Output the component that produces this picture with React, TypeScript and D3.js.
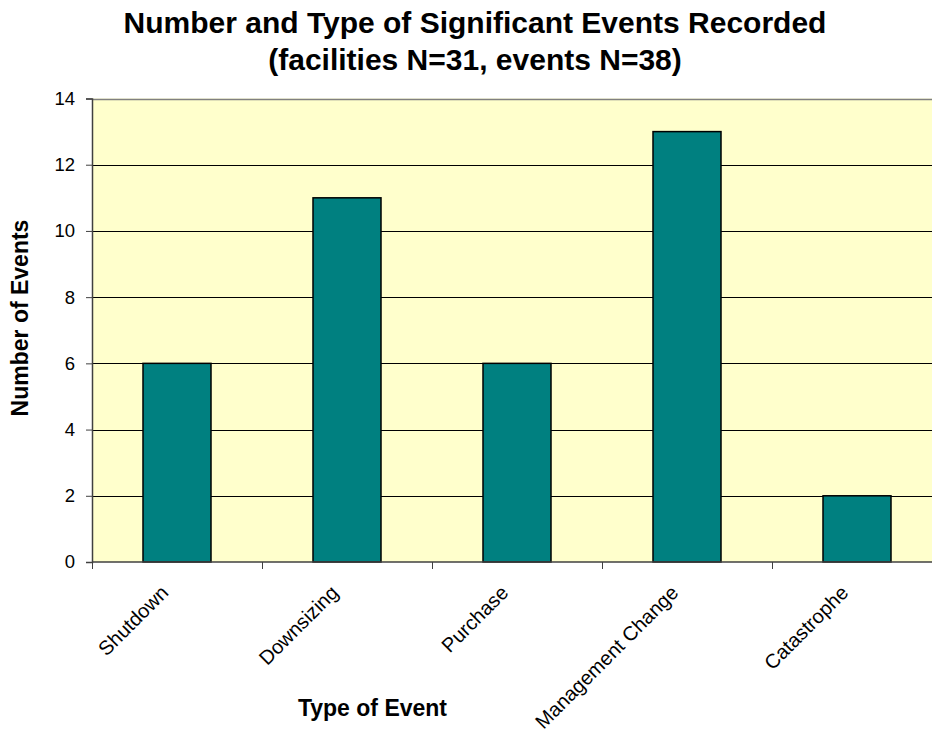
import React, { useEffect, useRef } from "react";
import * as d3 from "d3";

const categories = ["Shutdown", "Downsizing", "Purchase", "Management Change", "Catastrophe"];
const eventCounts = [6, 11, 6, 13, 2];
const yTicks = [0, 2, 4, 6, 8, 10, 12, 14];
const titleLines = ["Number and Type of Significant Events Recorded", "(facilities N=31, events N=38)"];

const FONT = "Arial, 'Liberation Sans', sans-serif";

const App = () => {
  const svgRef = useRef<SVGSVGElement>(null);

  useEffect(() => {
    document.body.style.margin = "0";
    const w = 932;
    const h = 734;
    const left = 92;
    const right = 942;
    const top = 98.5;
    const bottom = 562;

    const svg = d3.select(svgRef.current).attr("width", w).attr("height", h);
    svg.selectAll("*").remove();

    const x = d3.scaleBand().domain(categories).range([left, right]).paddingInner(0.6).paddingOuter(0.3);
    const y = d3.scaleLinear().domain([0, 14]).range([bottom, top]);

    // plot background
    svg
      .append("rect")
      .attr("x", left)
      .attr("y", top)
      .attr("width", right - left)
      .attr("height", bottom - top)
      .attr("fill", "#ffffcc");

    // gridlines
    svg
      .append("g")
      .selectAll("line")
      .data(yTicks.filter((d) => d > 0))
      .join("line")
      .attr("x1", left)
      .attr("x2", right)
      .attr("y1", (d) => Math.round(y(d)) + 0.5)
      .attr("y2", (d) => Math.round(y(d)) + 0.5)
      .attr("stroke", (d) => (d === 14 ? "#808080" : "#000"))
      .attr("stroke-width", (d) => (d === 14 ? 1.5 : 1));

    // bars
    svg
      .append("g")
      .selectAll("rect")
      .data(eventCounts)
      .join("rect")
      .attr("x", (d, i) => x(categories[i]) as number)
      .attr("y", (d) => y(d))
      .attr("width", x.bandwidth())
      .attr("height", (d) => bottom - y(d))
      .attr("fill", "#008080")
      .attr("stroke", "#000")
      .attr("stroke-width", 1.5);

    // y axis
    const yAxis = d3
      .axisLeft(y)
      .tickValues(yTicks)
      .tickSize(6)
      .tickFormat((d) => String(d));
    const yg = svg.append("g").attr("transform", `translate(${left},0)`).call(yAxis);
    yg.select(".domain").attr("stroke", "#404040").attr("stroke-width", 1.5);
    yg.selectAll(".tick line").attr("stroke", "#404040");
    yg.selectAll(".tick text")
      .attr("font-family", FONT)
      .attr("font-size", 18.5)
      .attr("fill", "#000")
      .attr("x", -17);

    // x axis line + ticks between categories
    svg
      .append("line")
      .attr("x1", left)
      .attr("x2", right)
      .attr("y1", bottom)
      .attr("y2", bottom)
      .attr("stroke", "#404040")
      .attr("stroke-width", 1.5);
    const step = x.step();
    svg
      .append("g")
      .selectAll("line")
      .data(categories)
      .join("line")
      .attr("x1", (d) => (x(d) as number) - step * 0.3 + 0.5)
      .attr("x2", (d) => (x(d) as number) - step * 0.3 + 0.5)
      .attr("y1", bottom)
      .attr("y2", bottom + 7)
      .attr("stroke", "#404040");

    // category labels
    svg
      .append("g")
      .selectAll("text")
      .data(categories)
      .join("text")
      .attr("transform", (d) => `translate(${(x(d) as number) + x.bandwidth() / 2 - 7.5},594) rotate(-45)`)
      .attr("text-anchor", "end")
      .attr("font-family", FONT)
      .attr("font-size", 20)
      .text((d) => d);

    // title
    svg
      .append("g")
      .selectAll("text")
      .data(titleLines)
      .join("text")
      .attr("x", 475)
      .attr("y", (d, i) => 33 + i * 37)
      .attr("text-anchor", "middle")
      .attr("font-family", FONT)
      .attr("font-weight", "bold")
      .attr("font-size", 30)
      .text((d) => d);

    // axis titles
    svg
      .append("text")
      .attr("transform", "translate(28,318) rotate(-90)")
      .attr("text-anchor", "middle")
      .attr("font-family", FONT)
      .attr("font-weight", "bold")
      .attr("font-size", 23)
      .text("Number of Events");
    svg
      .append("text")
      .attr("x", 372.5)
      .attr("y", 716)
      .attr("text-anchor", "middle")
      .attr("font-family", FONT)
      .attr("font-weight", "bold")
      .attr("font-size", 23)
      .text("Type of Event");
  }, []);

  return (
    <div style={{ backgroundColor: "white" }}>
      <svg ref={svgRef} style={{ display: "block" }}></svg>
    </div>
  );
};

export default App;
